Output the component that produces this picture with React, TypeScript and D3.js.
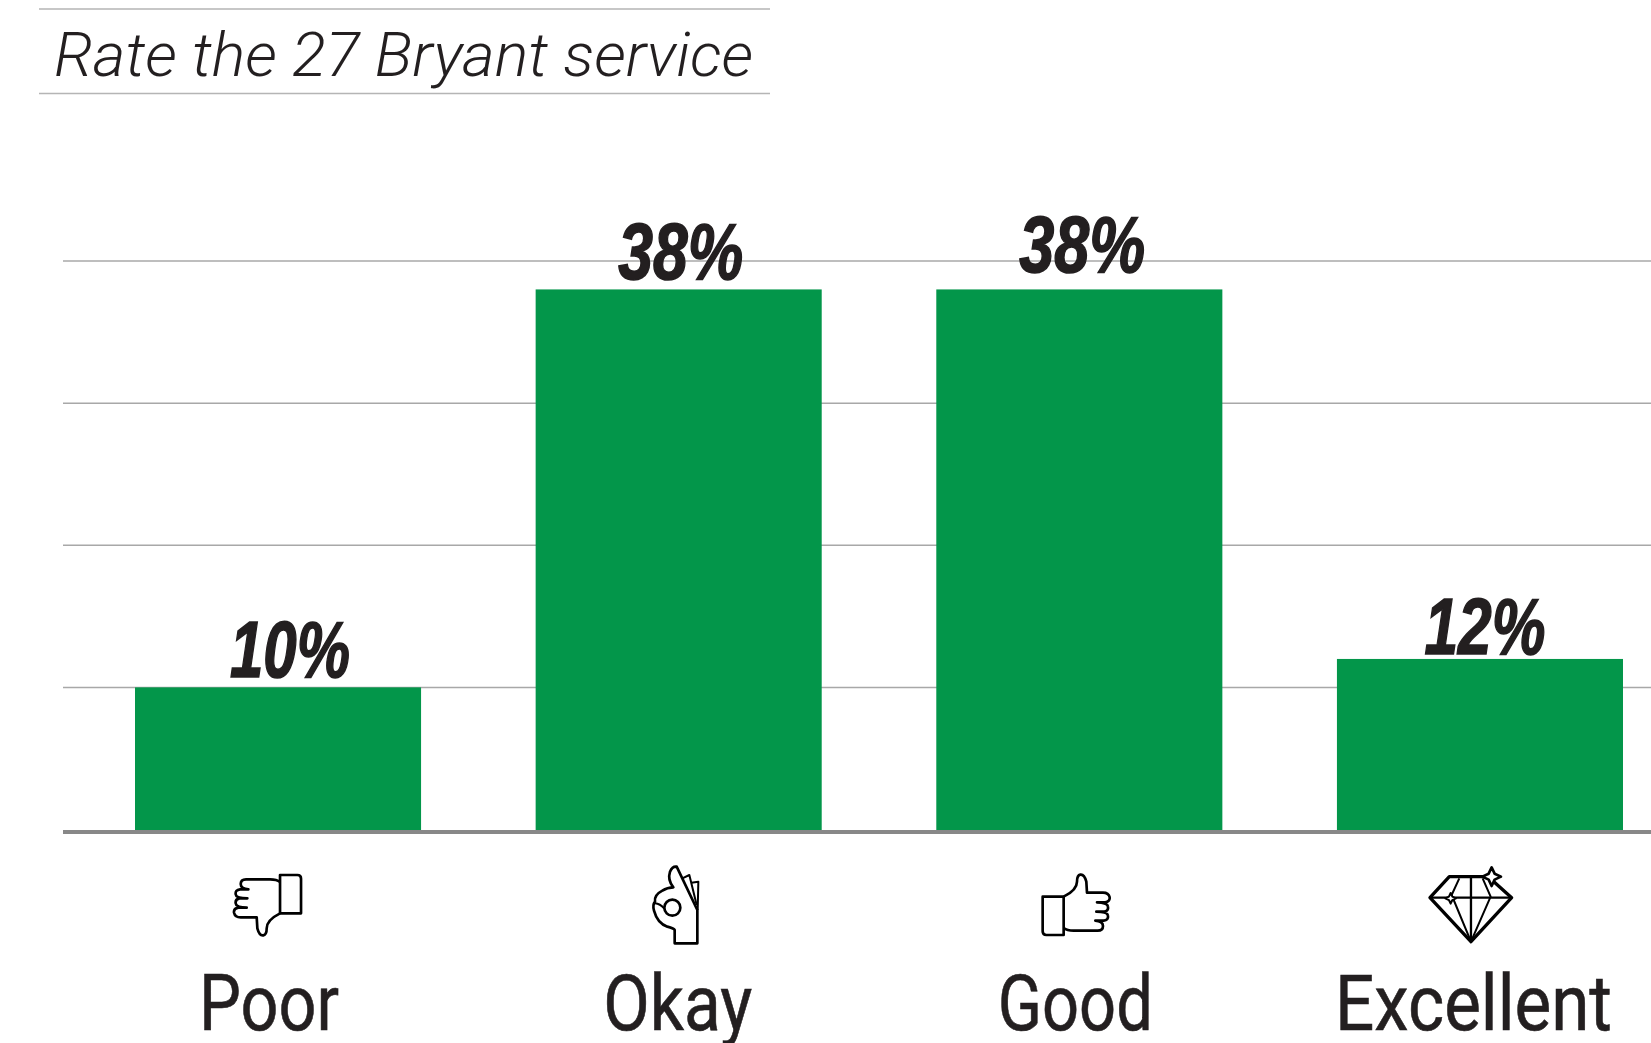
import React from "react";
import * as d3 from "d3";

// Survey results
const categories = ["Poor", "Okay", "Good", "Excellent"];
const shares = [10, 38, 38, 12];
const gridTicks = [10, 20, 30, 40];
const chartTitle = "Rate the 27 Bryant service";

// Layout constants
const WIDTH = 1651;
const HEIGHT = 1043;
const INK = "#231f20";
const GREEN = "#03964a";

const x = d3.scaleBand<string>().domain(categories).range([135, 1623]).paddingInner(0.286).paddingOuter(0);
const y = d3.scaleLinear().domain([0, 40]).range([829.5, 261]);

// Optical adjustments of the text and icons around each bar
const valueNudgeX = [12, 2, 3, 5];
const valueNudgeY = [0, 0, -7, 5];
const valueWidths = [120, 125, 126, 121];
const nameNudgeX = [-9, -1, -4, -6.5];
const nameWidths = [140, 149, 155, 277];
const iconNudgeX = [-58, -58, -49, -60];

const thumbPaths = (
  <>
    <path d="M180 45 H232 Q243 45 243 56 V160 H180 Z" />
    <path d="M180 66 Q170 58 150 58 H78 Q62 58 62 72 Q62 86 85 88 H60 Q45 90 47 103 Q48 115 82 115 H58 Q45 118 47 130 Q48 142 80 143 H55 Q40 146 42 158 Q45 172 62 172 H110 L112 205 Q118 228 130 226 Q140 224 140 205 Q140 180 180 160" />
  </>
);

function Sparkle({ cx, cy, r, w }: { cx: number; cy: number; r: number; w: number }) {
  const k = r * 0.32;
  const d = `M${cx} ${cy - r} L${cx + k} ${cy - k} L${cx + r} ${cy} L${cx + k} ${cy + k} L${cx} ${cy + r} L${cx - k} ${cy + k} L${cx - r} ${cy} L${cx - k} ${cy - k} Z`;
  return <path d={d} fill="#fff" strokeWidth={w} />;
}

const icons = [
  <g>{thumbPaths}</g>,
  <g>
    <path d="M162 250 H230 V150 L168 20 Q155 18 148 35 Q140 60 158 82 Q140 82 125 92 Q100 105 103 125 Q95 135 100 152 Q110 190 140 200 Q160 205 162 210 Z" />
    <path d="M185 55 L206 45 L228 135" strokeWidth={6} />
    <path d="M212 68 L233 65 L231 150" strokeWidth={6} />
    <circle cx={155} cy={143} r={24} />
    <path d="M103 130 Q118 131 131 146" strokeWidth={6} />
  </g>,
  <g transform="rotate(180 140 135)">{thumbPaths}</g>,
  <g>
    <path d="M88 50 H205 L275 113 L153 245 L30 113 Z" strokeWidth={10} />
    <path d="M30 113 H275 M153 50 V245" strokeWidth={7} />
    <path d="M118 55 L95 105 L153 245 M188 55 L212 110 L153 245" strokeWidth={6} />
    <Sparkle cx={215} cy={50} r={28} w={8} />
    <Sparkle cx={92} cy={115} r={16} w={6} />
  </g>,
];

export default function App() {
  return (
    <svg
      width={WIDTH}
      height={HEIGHT}
      viewBox={`0 0 ${WIDTH} ${HEIGHT}`}
      style={{ position: "absolute", left: 0, top: 0, display: "block", background: "#fff" }}
    >
      {/* Title between two rules */}
      <line x1={39} x2={770} y1={9} y2={9} stroke="#b5b5b5" strokeWidth={1.5} />
      <line x1={39} x2={770} y1={93.5} y2={93.5} stroke="#b5b5b5" strokeWidth={1.5} />
      <text
        x={54}
        y={76}
        fontFamily="Roboto, 'Liberation Sans', sans-serif"
        fontWeight={300}
        fontStyle="italic"
        fontSize={61}
        fill={INK}
        textLength={699}
        lengthAdjust="spacingAndGlyphs"
      >
        {chartTitle}
      </text>

      {/* Horizontal gridlines */}
      {gridTicks.map((t) => (
        <line key={t} x1={63} x2={WIDTH} y1={y(t)} y2={y(t)} stroke="#a8a8a8" strokeWidth={1.5} />
      ))}

      {/* Bars */}
      {categories.map((c, i) => (
        <rect key={c} x={x(c)} y={y(shares[i])} width={x.bandwidth()} height={y(0) - y(shares[i]) + 1} fill={GREEN} />
      ))}

      {/* Baseline */}
      <line x1={63} x2={WIDTH} y1={832} y2={832} stroke="#888888" strokeWidth={4} />

      {/* Value labels */}
      {categories.map((c, i) => (
        <text
          key={c}
          x={x(c)! + x.bandwidth() / 2 + valueNudgeX[i]}
          y={y(shares[i]) - 10 + valueNudgeY[i]}
          textAnchor="middle"
          fontFamily="'Liberation Sans', Arial, sans-serif"
          fontWeight={700}
          fontStyle="italic"
          fontSize={79}
          fill={INK}
          stroke={INK}
          strokeWidth={1.6}
          textLength={valueWidths[i]}
          lengthAdjust="spacingAndGlyphs"
        >
          {`${shares[i]}%`}
        </text>
      ))}

      {/* Rating icons */}
      {categories.map((c, i) => (
        <g
          key={c}
          transform={`translate(${x(c)! + x.bandwidth() / 2 + iconNudgeX[i]},860) scale(${1 / 3})`}
          fill="none"
          stroke="#000"
          strokeWidth={8}
          strokeLinejoin="round"
        >
          {icons[i]}
        </g>
      ))}

      {/* Category names */}
      {categories.map((c, i) => (
        <text
          key={c}
          x={x(c)! + x.bandwidth() / 2 + nameNudgeX[i]}
          y={1030}
          textAnchor="middle"
          fontFamily="Roboto, 'Liberation Sans', sans-serif"
          fontSize={77}
          fill={INK}
          stroke={INK}
          strokeWidth={0.6}
          textLength={nameWidths[i]}
          lengthAdjust="spacingAndGlyphs"
        >
          {c}
        </text>
      ))}
    </svg>
  );
}
